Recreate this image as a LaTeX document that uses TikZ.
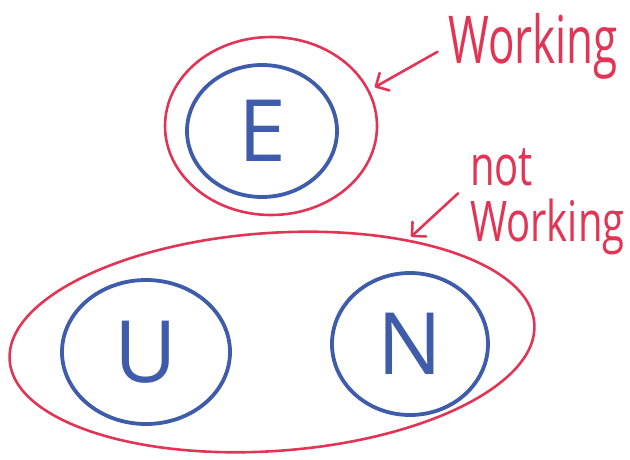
\documentclass[tikz,border=0pt]{standalone}
\usepackage{fontspec}
\setmainfont{Open Sans}
\usepackage{xcolor}
\usepackage{tikz}
\usetikzlibrary{positioning, arrows.meta, shapes.geometric}
\definecolor{penred}{RGB}{226,52,84}
\definecolor{penblue}{RGB}{62,92,170}

\begin{document}
\begin{tikzpicture}[x=1pt, y=1pt,
          group/.style={draw=penred, line width=2.6pt, ellipse, inner sep=0pt},
          letter/.style={draw=penblue, line width=3.8pt, ellipse, inner sep=0pt, text=penblue, font=\fontsize{86}{86}\selectfont},
          note/.style={text=penred, inner sep=0pt, align=left, transform shape},
          ar/.style={draw=penred, line width=2.6pt, line cap=round, -{Straight Barb[length=3.5mm, width=7mm, round]}}]
        \useasboundingbox (0,0) rectangle (630,-459);
        \node[group, minimum width=212pt, minimum height=178pt] (topset) at (271,-126) {};
        \node[letter, minimum width=150pt, minimum height=132pt] (e) at (262,-131) {E};
        \node[group, rotate=4, minimum width=526pt, minimum height=218pt] (botset) at (272,-342) {};
        \node[letter, minimum width=168pt, minimum height=144pt] (u) at (146,-352) {U};
        \node[letter, minimum width=156pt, minimum height=142pt] (n) at (410,-344) {N};
        \node[note, yscale=1.5, anchor=base west, font=\fontsize{44}{44}\selectfont] (work) at (448,-63) {Working};
        \node[note, yscale=1.4, anchor=north west, font=\fontsize{40}{40}\selectfont] (notwork) at (470,-148) {not\\Working};
        \draw[ar, shorten <=12pt, shorten >=6pt] (work.west) -- (topset.20);
        \draw[ar, shorten <=16pt, shorten >=4pt] (notwork.170) -- (botset.33);
      \end{tikzpicture}
\end{document}
